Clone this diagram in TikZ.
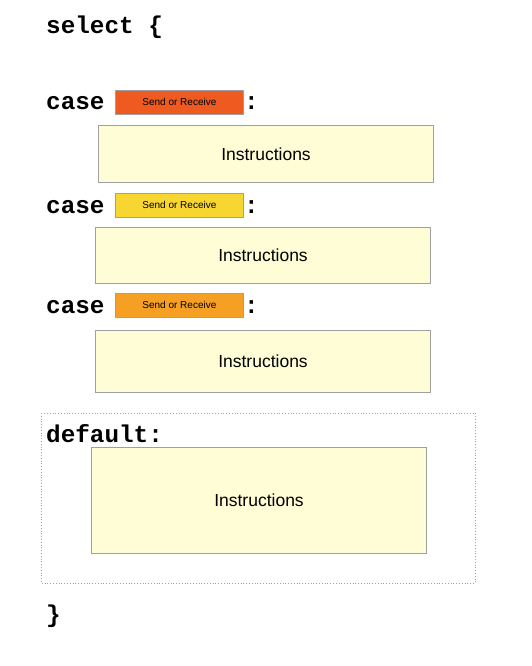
\documentclass[tikz,border=0pt]{standalone}
\usepackage{fontspec}
\setmainfont{Liberation Sans}
\newfontfamily\codefont{Liberation Mono}
\usetikzlibrary{positioning}
\definecolor{sendred}{RGB}{239,90,32}
\definecolor{sendyellow}{RGB}{248,214,50}
\definecolor{sendorange}{RGB}{245,160,34}
\definecolor{instrfill}{RGB}{254,253,214}
\definecolor{instrline}{RGB}{160,160,160}
\begin{document}
\begin{tikzpicture}[x=1pt,y=-1pt,
code/.style={inner sep=0pt,anchor=base west,font=\codefont\bfseries\fontsize{24.3}{24}\selectfont},
sendbox/.style={draw=instrline,line width=0.8pt,minimum width=128pt,minimum height=24pt,inner sep=0pt,anchor=north west,font=\fontsize{10}{12}\selectfont},
instrbox/.style={draw=instrline,fill=instrfill,line width=1pt,inner sep=0pt,anchor=north west,font=\fontsize{17.5}{20}\selectfont}]
\useasboundingbox (0,0) rectangle (532,666);
\node[code] (select) at (46,34) {select \{};
% case 1
\node[code] (case1) at (46,110) {case};
\node[sendbox,fill=sendred] (send1) at (115,90) {Send or Receive};
\node[code] (colon1) at (244,110) {:};
\node[instrbox,minimum width=335pt,minimum height=57pt] (instr1) at (98,125) {Instructions};
% case 2
\node[code] (case2) at (46,213) {case};
\node[sendbox,fill=sendyellow] (send2) at (115,193) {Send or Receive};
\node[code] (colon2) at (244,213) {:};
\node[instrbox,minimum width=335pt,minimum height=56pt] (instr2) at (95,227) {Instructions};
% case 3
\node[code] (case3) at (46,313) {case};
\node[sendbox,fill=sendorange] (send3) at (115,293) {Send or Receive};
\node[code] (colon3) at (244,313) {:};
\node[instrbox,minimum width=335pt,minimum height=62pt] (instr3) at (95,330) {Instructions};
% default
\draw[instrline,dotted,line width=0.8pt] (41,413) rectangle (475,583);
\node[code] (default) at (46,442) {default:};
\node[instrbox,minimum width=335pt,minimum height=106pt] (instr4) at (91,447) {Instructions};
\node[code] (close) at (46,622) {\}};
\end{tikzpicture}
\end{document}
